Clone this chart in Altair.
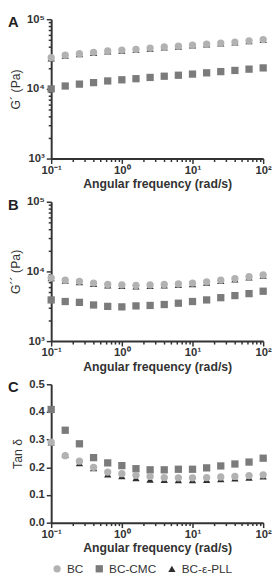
import altair as alt
import pandas as pd

freq = [0.1, 0.158, 0.251, 0.398, 0.631, 1.0, 1.585, 2.512, 3.981, 6.31,
        10.0, 15.85, 25.12, 39.81, 63.1, 100.0]
samples = ["BC", "BC-CMC", "BC-ε-PLL"]

# Panel A: storage modulus G' (Pa)
gp_bc = [28000, 30500, 32000, 33500, 35000, 36000, 37000, 38500, 40000, 41000,
         42500, 44000, 45500, 47000, 49000, 51000]
gp_cmc = [10000, 11000, 11700, 12300, 13000, 13500, 14000, 14600, 15200, 15700,
          16300, 17000, 17700, 18400, 19200, 20000]
gp_pll = [27500, 30000, 31500, 33000, 34500, 35500, 36500, 38000, 39500, 40500,
          42000, 43500, 45000, 46500, 48500, 50500]

# Panel B: loss modulus G'' (Pa)
gpp_bc = [8100, 7500, 7200, 6800, 6500, 6400, 6300, 6400, 6500, 6600,
          6800, 7100, 7500, 7900, 8400, 8900]
gpp_cmc = [3900, 3700, 3600, 3300, 3150, 3100, 3200, 3250, 3350, 3500,
           3700, 3900, 4200, 4500, 4800, 5200]
gpp_pll = [8000, 7400, 7050, 6650, 6300, 6200, 6100, 6200, 6300, 6400,
           6600, 6900, 7300, 7700, 8200, 8700]

# Panel C: tan delta
tan_bc = [0.291, 0.242, 0.222, 0.200, 0.183, 0.177, 0.171, 0.167, 0.163, 0.162,
          0.162, 0.163, 0.165, 0.167, 0.170, 0.173]
tan_cmc = [0.409, 0.334, 0.285, 0.235, 0.216, 0.206, 0.195, 0.191, 0.191, 0.193,
           0.193, 0.198, 0.205, 0.212, 0.219, 0.233]
tan_pll = [0.290, 0.245, 0.215, 0.197, 0.175, 0.168, 0.161, 0.156, 0.155, 0.154,
           0.154, 0.155, 0.157, 0.160, 0.163, 0.167]


def frame(bc, cmc, pll):
    rows = []
    # draw order: triangles first, then squares, then circles on top
    for name, vals in (("BC-ε-PLL", pll), ("BC-CMC", cmc), ("BC", bc)):
        for f, v in zip(freq, vals):
            rows.append({"freq": f, "value": v, "sample": name})
    return pd.DataFrame(rows)


FONT = "Liberation Sans"
dec = "abs(log(datum.value)/LN10 - round(log(datum.value)/LN10)) < 0.001"
expo = "('' + round(log(datum.value)/LN10))"
sup = ("replace(replace(replace(replace(replace(replace(replace(" + expo +
       ",'-','⁻'),'0','⁰'),'1','¹'),'2','²'),'3','³'),'4','⁴'),'5','⁵')")
log_label = dec + " ? '10' + " + sup + " : ''"

x_ticks = [k * 10.0 ** e for e in (-1, 0, 1) for k in range(1, 10)] + [100.0]
y_ticks = [k * 10.0 ** e for e in (3, 4) for k in range(1, 10)] + [100000.0]

tick_cond = {"condition": {"test": dec, "value": 5}, "value": 3}

color = alt.Color("sample:N", scale=alt.Scale(domain=samples,
                  range=["#b2b2b2", "#7b7b7b", "#2e2e2e"]),
                  legend=alt.Legend(title=None, orient="bottom", direction="horizontal",
                                    labelFontSize=12, labelFont=FONT, symbolSize=50,
                                    columnPadding=10, symbolStrokeWidth=0, labelColor="#333"))
shape = alt.Shape("sample:N", scale=alt.Scale(domain=samples,
                  range=["circle", "square", "triangle-up"]), legend=None)
size = alt.Size("sample:N", scale=alt.Scale(domain=samples, range=[55, 55, 35]), legend=None)

x_enc = alt.X("freq:Q", scale=alt.Scale(type="log", domain=[0.1, 100], nice=False),
              axis=alt.Axis(title="Angular frequency (rad/s)", values=x_ticks,
                            labelExpr=log_label, labelOverlap=False, labelFlush=False,
                            tickSize=tick_cond, labelFontSize=11.5, labelFontWeight="bold",
                            titleFontSize=12.5, titleFontWeight="bold", labelPadding=1,
                            titlePadding=2))


def letter(t):
    return alt.Chart(alt.Data(values=[{"a": 1}])).mark_text(
        text=t, font=FONT, fontSize=15, fontWeight="bold", align="left",
        baseline="middle", color="#222").encode(x=alt.value(-44), y=alt.value(3))


def log_panel(df, title, t, h):
    pts = alt.Chart(df).mark_point(filled=True, opacity=1).encode(
        x=x_enc,
        y=alt.Y("value:Q", scale=alt.Scale(type="log", domain=[1000, 100000], nice=False),
                axis=alt.Axis(title=title, values=y_ticks, labelExpr=log_label,
                              labelOverlap=False, tickSize=tick_cond, labelFontSize=11.5,
                              labelFontWeight="bold", titleFontSize=12.5,
                              titleFontWeight="normal", titlePadding=4)),
        color=color, shape=shape, size=size)
    return alt.layer(pts, letter(t)).properties(width=216, height=h)


pa = log_panel(frame(gp_bc, gp_cmc, gp_pll), "G´ (Pa)", "A", 142)
pb = log_panel(frame(gpp_bc, gpp_cmc, gpp_pll), "G´´ (Pa)", "B", 142)

pts_c = alt.Chart(frame(tan_bc, tan_cmc, tan_pll)).mark_point(filled=True, opacity=1).encode(
    x=x_enc,
    y=alt.Y("value:Q", scale=alt.Scale(domain=[0, 0.5], nice=False),
            axis=alt.Axis(title="Tan δ", values=[0, 0.1, 0.2, 0.3, 0.4, 0.5], format=".1f",
                          tickSize=5, labelFontSize=11.5, labelFontWeight="bold",
                          titleFontSize=12.5, titleFontWeight="normal", titlePadding=4)),
    color=color, shape=shape, size=size)
pc = alt.layer(pts_c, letter("C")).properties(width=216, height=141)

chart = alt.vconcat(pa, pb, pc, spacing=6).properties(padding=0).configure_view(
    stroke=None).configure_axis(
    grid=False, domainColor="#333", domainWidth=2, tickColor="#333", tickWidth=1.5,
    labelFont=FONT, titleFont=FONT, labelColor="#333", titleColor="#333"
).configure_legend(padding=0, offset=9)

chart.save("out.html", embed_options={"renderer": "svg", "actions": False})
